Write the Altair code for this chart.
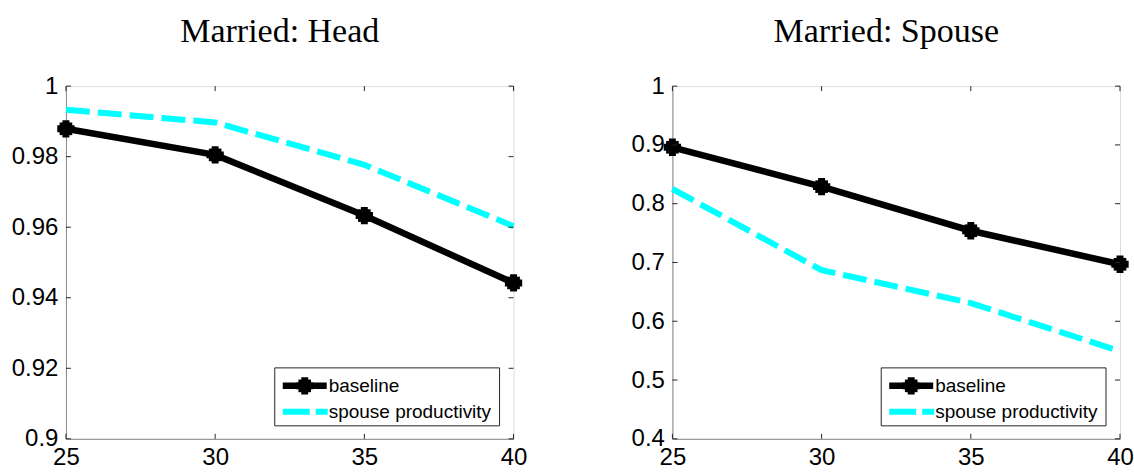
import altair as alt
import pandas as pd

ages = [25, 30, 35, 40]
series_names = ["baseline", "spouse productivity"]

head_baseline = [0.9879, 0.9805, 0.9633, 0.9442]
head_spouse = [0.9933, 0.9897, 0.9777, 0.9603]
spouse_baseline = [0.896, 0.829, 0.754, 0.697]
spouse_spouse = [0.825, 0.687, 0.631, 0.549]

head_yticks = [0.9, 0.92, 0.94, 0.96, 0.98, 1.0]
spouse_yticks = [0.4, 0.5, 0.6, 0.7, 0.8, 0.9, 1.0]

titles = ["Married:  Head", "Married:  Spouse"]

W, H = 448, 353
BLACK = "#000000"
CYAN = "#00FFFF"
AXC = "#262626"
DASH = [24, 8]


def panel(title, base, sp, ydom, yticks):
    df = pd.DataFrame({
        "age": ages * 2,
        "value": base + sp,
        "series": [series_names[0]] * len(ages) + [series_names[1]] * len(ages),
    })
    xs = alt.Scale(domain=[ages[0], ages[-1]], nice=False, zero=False)
    ys = alt.Scale(domain=ydom, nice=False, zero=False)
    x = alt.X("age:Q", scale=xs,
              axis=alt.Axis(values=ages, ticks=False, grid=False, title=None,
                            labelFontSize=24, labelPadding=7, labelFlush=False,
                            labelOverlap=False))
    y = alt.Y("value:Q", scale=ys,
              axis=alt.Axis(values=yticks, format="~g", ticks=False, grid=False,
                            title=None, labelFontSize=24, labelPadding=8,
                            labelFlush=False, labelOverlap=False))
    base_c = alt.Chart(df)
    black_line = base_c.transform_filter(alt.datum.series == series_names[0]).mark_line(
        color=BLACK, strokeWidth=6.5, strokeJoin="miter").encode(x=x, y=y)
    black_sq = base_c.transform_filter(alt.datum.series == series_names[0]).mark_point(
        color=BLACK, filled=True, shape="square", size=160, opacity=1).encode(x=x, y=y)
    black_cr = base_c.transform_filter(alt.datum.series == series_names[0]).mark_point(
        color=BLACK, filled=True, shape="cross", size=300, opacity=1).encode(x=x, y=y)
    cyan_line = base_c.transform_filter(alt.datum.series == series_names[1]).mark_line(
        color=CYAN, strokeWidth=6, strokeDash=DASH, strokeCap="butt").encode(x=x, y=y)

    # inward ticks on all four sides
    xt = pd.DataFrame({"age": ages})
    yt = pd.DataFrame({"value": yticks})
    tick_style = dict(color=AXC, strokeWidth=1)
    xb = alt.Chart(xt).mark_rule(**tick_style).encode(
        x=alt.X("age:Q", scale=xs), y=alt.value(H), y2=alt.value(H - 5))
    xtp = alt.Chart(xt).mark_rule(**tick_style).encode(
        x=alt.X("age:Q", scale=xs), y=alt.value(0), y2=alt.value(5))
    yl = alt.Chart(yt).mark_rule(**tick_style).encode(
        y=alt.Y("value:Q", scale=ys), x=alt.value(0), x2=alt.value(5))
    yr = alt.Chart(yt).mark_rule(**tick_style).encode(
        y=alt.Y("value:Q", scale=ys), x=alt.value(W), x2=alt.value(W - 5))

    # legend box
    one = pd.DataFrame({"label": [series_names[0]]})
    two = pd.DataFrame({"label": [series_names[1]]})
    lx0, lx1, ly0, ly1 = 209, 434, 282, 340
    r1, r2 = 300, 326
    box = alt.Chart(one).mark_rect(fill="white", stroke=AXC, strokeWidth=1).encode(
        x=alt.value(lx0), x2=alt.value(lx1), y=alt.value(ly0), y2=alt.value(ly1))
    l1 = alt.Chart(one).mark_rule(color=BLACK, strokeWidth=6.5).encode(
        x=alt.value(217), x2=alt.value(261), y=alt.value(r1))
    l1sq = alt.Chart(one).mark_point(color=BLACK, filled=True, shape="square", size=160, opacity=1).encode(
        x=alt.value(239), y=alt.value(r1))
    l1cr = alt.Chart(one).mark_point(color=BLACK, filled=True, shape="cross", size=300, opacity=1).encode(
        x=alt.value(239), y=alt.value(r1))
    l2 = alt.Chart(two).mark_rule(color=CYAN, strokeWidth=6, strokeDash=[27, 6], strokeCap="butt").encode(
        x=alt.value(217), x2=alt.value(262), y=alt.value(r2))
    t1 = alt.Chart(one).mark_text(align="left", baseline="middle", fontSize=19,
                                  font="Liberation Sans", color=BLACK).encode(
        x=alt.value(263), y=alt.value(r1), text="label:N")
    t2 = alt.Chart(two).mark_text(align="left", baseline="middle", fontSize=19,
                                  font="Liberation Sans", color=BLACK).encode(
        x=alt.value(263), y=alt.value(r2), text="label:N")

    return alt.layer(
        black_line, black_sq, black_cr, cyan_line,
        xb, xtp, yl, yr,
        box, l1, l1sq, l1cr, l2, t1, t2,
    ).properties(
        width=W, height=H,
        title=alt.TitleParams(title, font="Liberation Serif", fontSize=34,
                              fontWeight="normal", color=BLACK, anchor="middle",
                              dx=-10, baseline="alphabetic", offset=-2),
    )


left = panel(titles[0], head_baseline, head_spouse, [0.9, 1.0], head_yticks)
right = panel(titles[1], spouse_baseline, spouse_spouse, [0.4, 1.0], spouse_yticks)

chart = alt.hconcat(left, right, spacing=159, bounds="flush").properties(
    padding={"left": 10, "top": 14, "right": 0, "bottom": 0},
).configure_view(
    stroke=AXC, strokeWidth=1
).configure_axis(
    labelFont="Liberation Sans", labelColor=AXC, domainColor=AXC, domainWidth=1
).configure(background="white")

chart.save("out.html", embed_options={"renderer": "svg", "actions": False})
